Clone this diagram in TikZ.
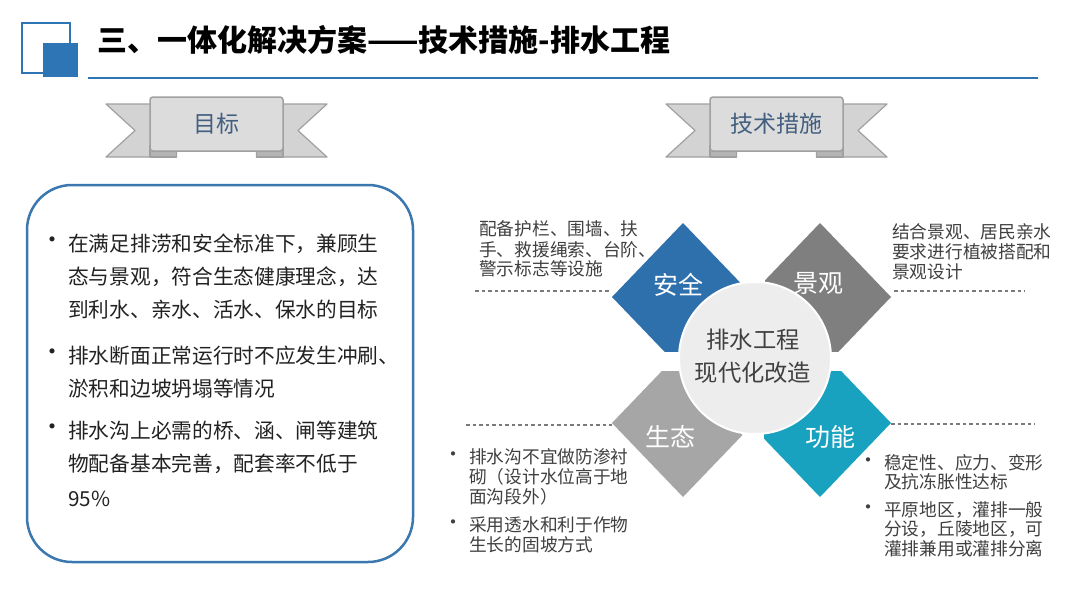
\documentclass[tikz,border=0pt]{standalone}
\usepackage{fontspec}
\newfontfamily\cjk{Noto Sans CJK SC}
\definecolor{mainblue}{HTML}{2E75B6}
\definecolor{boxblue}{HTML}{3B78B0}
\definecolor{safeblue}{HTML}{2E70AC}
\definecolor{landgray}{HTML}{7F7F7F}
\definecolor{ecogray}{HTML}{A6A6A6}
\definecolor{functeal}{HTML}{19A2C0}
\definecolor{circgray}{HTML}{EDEDED}
\definecolor{txtgray}{HTML}{404040}
\definecolor{txtdark}{HTML}{222222}
\definecolor{dashgray}{HTML}{7A7A7A}
\definecolor{ribface}{HTML}{DCDCDC}
\definecolor{ribtail}{HTML}{D3D3D3}
\definecolor{ribfold}{HTML}{B4B4B4}
\definecolor{ribedge}{HTML}{A0A0A0}
\definecolor{ribtext}{HTML}{435F80}
\tikzset{
  titletext/.style={inner sep=0, anchor=base west, text=black, font=\cjk\bfseries\fontsize{30}{32}\selectfont},
  boxline/.style={inner sep=0, anchor=base west, text=txtdark, font=\cjk\fontsize{20.7}{24}\selectfont},
  boxbullet/.style={inner sep=0, anchor=center, text=txtdark, font=\cjk\fontsize{24}{26}\selectfont},
  sideline/.style={inner sep=0, anchor=base west, text=txtgray, font=\cjk\fontsize{17.7}{20}\selectfont},
  sidebullet/.style={inner sep=0, anchor=center, text=txtgray, font=\cjk\fontsize{20}{22}\selectfont},
  dialabel/.style={inner sep=0, anchor=center, text=white, font=\cjk\fontsize{25}{28}\selectfont},
  hubtext/.style={inner sep=0, anchor=center, text=txtgray, font=\cjk\fontsize{23.3}{26}\selectfont},
  ribbonlabel/.style={inner sep=0, anchor=center, text=ribtext, font=\cjk\fontsize{23}{26}\selectfont},
  dashline/.style={draw=dashgray, line width=1.2, dash pattern=on 3.5pt off 3pt},
  ribtailstyle/.style={fill=ribtail, draw=ribedge, line width=1.2, line join=round},
  ribfoldstyle/.style={fill=ribfold, draw=ribedge, line width=1.2, line join=round},
  ribfacestyle/.style={fill=ribface, draw=ribedge, line width=1.5, rounded corners=3}
}
\begin{document}
\begin{tikzpicture}[x=1pt,y=-1pt]
\useasboundingbox (0,0) rectangle (1080,608);
\fill[white] (0,0) rectangle (1080,608);

% ---------- title ----------
\draw[mainblue, line width=2] (22,23) rectangle (70,73);
\fill[mainblue] (43,43) rectangle (78,77);
\node[titletext] (title) at (97,51) {三、一体化解决方案——技术措施-排水工程};
\coordinate (rulea) at (88,78);
\coordinate (ruleb) at (1038,78);
\draw[mainblue, line width=1.5] (rulea) -- (ruleb);

% ---------- ribbons ----------
\foreach \cx/\lab/\nm in {216.5/目标/ribA, 776.5/技术措施/ribB}{
  \begin{scope}[shift={(\cx,0)}]
    \draw[ribtailstyle] (-110.5,104) -- (-40,104) -- (-40,157) -- (-110.5,157) -- (-81.5,130.5) -- cycle;
    \draw[ribtailstyle] (110.5,104) -- (40,104) -- (40,157) -- (110.5,157) -- (81.5,130.5) -- cycle;
    \draw[ribfoldstyle] (-66.5,146) -- (-40,146) -- (-40,157) -- (-66.5,157) -- cycle;
    \draw[ribfoldstyle] (66.5,146) -- (40,146) -- (40,157) -- (66.5,157) -- cycle;
    \draw[ribfacestyle] (-66.5,97) rectangle (66.5,151);
    \node[ribbonlabel] (\nm) at (0,124) {\lab};
  \end{scope}
}

% ---------- left box ----------
\draw[boxblue, line width=2.5, rounded corners=45] (27,185) rectangle (413,562);
\node[boxbullet] (lb1) at (52,243) {•};
\node[boxline] (la1) at (68,251) {在满足排涝和安全标准下，兼顾生};
\node[boxline] (la2) at (68,284) {态与景观，符合生态健康理念，达};
\node[boxline] (la3) at (68,317) {到利水、亲水、活水、保水的目标};
\node[boxbullet] (lb2) at (52,355) {•};
\node[boxline] (la4) at (68,363) {排水断面正常运行时不应发生冲刷、};
\node[boxline] (la5) at (68,396) {淤积和边坡坍塌等情况};
\node[boxbullet] (lb3) at (52,430) {•};
\node[boxline] (la6) at (68,438) {排水沟上必需的桥、涵、闸等建筑};
\node[boxline] (la7) at (68,471) {物配备基本完善，配套率不低于};
\node[boxline] (la8) at (68,506) {95\%};

% ---------- diamonds ----------
\begin{scope}
  \clip (600,200) rectangle (741,351);
  \fill[safeblue] (683,223) -- (754,297) -- (683,371) -- (612,297) -- cycle;
\end{scope}
\begin{scope}
  \clip (765,200) rectangle (910,351);
  \fill[landgray] (820,223) -- (891,297) -- (820,371) -- (749,297) -- cycle;
\end{scope}
\begin{scope}
  \clip (600,371) rectangle (742,520);
  \fill[ecogray] (683,349) -- (754,423) -- (683,497) -- (612,423) -- cycle;
\end{scope}
\begin{scope}
  \clip (764,371) rectangle (910,520);
  \fill[functeal] (820,349) -- (891,423) -- (820,497) -- (749,423) -- cycle;
\end{scope}
\node[dialabel] (safe) at (678,285) {安全};
\node[dialabel] (land) at (818,283) {景观};
\node[dialabel] (eco) at (670,437) {生态};
\node[dialabel] (func) at (830,437) {功能};

\node[circle, fill=circgray, draw=white, line width=2, minimum size=152, inner sep=0] (hub) at (755,358) {};
\node[hubtext] (hub1) at (753,340) {排水工程};
\node[hubtext] (hub2) at (753,373) {现代化改造};

% ---------- dashed separators ----------
\coordinate (d1a) at (475,291); \coordinate (d1b) at (610,291);
\coordinate (d2a) at (894,291); \coordinate (d2b) at (1025,291);
\coordinate (d3a) at (466,425); \coordinate (d3b) at (612,425);
\coordinate (d4a) at (891,424); \coordinate (d4b) at (1035,424);
\draw[dashline] (d1a) -- (d1b);
\draw[dashline] (d2a) -- (d2b);
\draw[dashline] (d3a) -- (d3b);
\draw[dashline] (d4a) -- (d4b);

% ---------- side texts ----------
\node[sideline] (s1) at (479,235.5) {配备护栏、围墙、扶};
\node[sideline] (s2) at (479,256) {手、救援绳索、台阶、};
\node[sideline] (s3) at (479,275.5) {警示标志等设施};

\node[sideline] (t1) at (892,238.5) {结合景观、居民亲水};
\node[sideline] (t2) at (892,258.5) {要求进行植被搭配和};
\node[sideline] (t3) at (892,278.5) {景观设计};

\node[sidebullet] (eb1) at (453,457) {•};
\node[sideline] (e1) at (469,463.5) {排水沟不宜做防渗衬};
\node[sideline] (e2) at (469,483.5) {砌（设计水位高于地};
\node[sideline] (e3) at (469,503.5) {面沟段外）};
\node[sidebullet] (eb2) at (453,525) {•};
\node[sideline] (e4) at (469,531.5) {采用透水和利于作物};
\node[sideline] (e5) at (469,551.5) {生长的固坡方式};

\node[sidebullet] (fb1) at (868,463) {•};
\node[sideline] (f1) at (884,469.5) {稳定性、应力、变形};
\node[sideline] (f2) at (884,488.5) {及抗冻胀性达标};
\node[sidebullet] (fb2) at (868,510) {•};
\node[sideline] (f3) at (884,516.5) {平原地区，灌排一般};
\node[sideline] (f4) at (884,535.5) {分设，丘陵地区，可};
\node[sideline] (f5) at (884,555.5) {灌排兼用或灌排分离};
\end{tikzpicture}
\end{document}
